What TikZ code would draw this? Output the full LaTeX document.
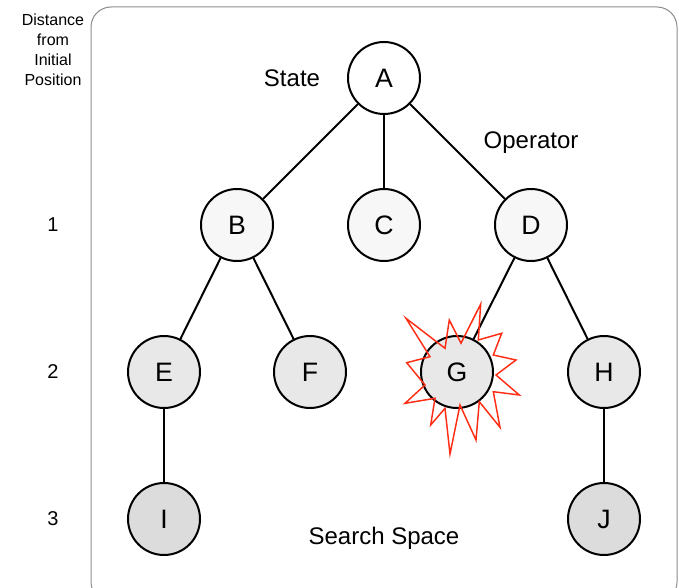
\documentclass[tikz,border=0pt]{standalone}
\usepackage{fontspec}
\setmainfont{Liberation Sans}

\begin{document}
\begin{tikzpicture}[x=0.75pt,y=0.75pt,yscale=-1,xscale=1,
  state/.style={circle,draw,line width=1.5pt,minimum size=54pt,inner sep=0pt,font=\fontsize{20}{24}\selectfont},
  depth0/.style={state,fill=white},
  depth1/.style={state,fill={rgb, 255:red, 247; green, 247; blue, 247 }},
  depth2/.style={state,fill={rgb, 255:red, 232; green, 232; blue, 232 }},
  depth3/.style={state,fill={rgb, 255:red, 220; green, 220; blue, 220 }},
  edge/.style={line width=1.5pt},
  label/.style={font=\fontsize{18}{22}\selectfont},
  side/.style={font=\fontsize{12}{15}\selectfont,align=center},
  level/.style={font=\fontsize{15}{18}\selectfont}]
\useasboundingbox (0,0) rectangle (679,588);

%Frame
\draw [color={rgb, 255:red, 140; green, 140; blue, 140 }, line width=0.75pt, rounded corners=15pt] (91,7) rectangle (677,602);

%States
\node [depth0] (A) at (384,78) {A};
\node [depth1] (B) at (237,225) {B};
\node [depth1] (C) at (384,225) {C};
\node [depth1] (D) at (531,225) {D};
\node [depth2] (E) at (164,372) {E};
\node [depth2] (F) at (310,372) {F};
\node [depth2] (G) at (457,372) {G};
\node [depth2] (H) at (604,372) {H};
\node [depth3] (I) at (164,519) {I};
\node [depth3] (J) at (604,519) {J};

%Operators
\draw [edge] (A) -- (B);
\draw [edge] (A) -- (C);
\draw [edge] (A) -- (D);
\draw [edge] (B) -- (E);
\draw [edge] (B) -- (F);
\draw [edge] (D) -- (G);
\draw [edge] (D) -- (H);
\draw [edge] (E) -- (I);
\draw [edge] (H) -- (J);

%Burst round G
\begin{scope}[shift={(G.center)}]
\draw [color={rgb, 255:red, 255; green, 45; blue, 20 }, line width=1.1pt, line join=miter]
  (-51,-53.7) -- (-12,-23.7) -- (-7.7,-52) -- (4,-28.7) -- (23.7,-68) -- (21.3,-32)
  -- (44.7,-38.7) -- (36.3,-17) -- (59,-12) -- (39,3) -- (62.3,23) -- (36.3,19.7)
  -- (43,55.3) -- (22.3,29.7) -- (19,68) -- (3,33) -- (-7,82) -- (-12,36.3)
  -- (-26.3,53) -- (-22,26.3) -- (-52,31.3) -- (-32,13) -- (-50.3,-9.3) -- (-27,-15.3) -- cycle;
\end{scope}

% Text Node
\node [label] (state) at (292,78) {State};
% Text Node
\node [label] (operator) at (531,143) {Operator};
% Text Node
\node [label] (space) at (384,538) {Search Space};

% Text Node
\node [side] (dist) at (53,50) {Distance\\from\\Initial\\Position};
\node [level] (d1) at (53,225) {1};
\node [level] (d2) at (53,372) {2};
\node [level] (d3) at (53,519) {3};

\end{tikzpicture}
\end{document}
